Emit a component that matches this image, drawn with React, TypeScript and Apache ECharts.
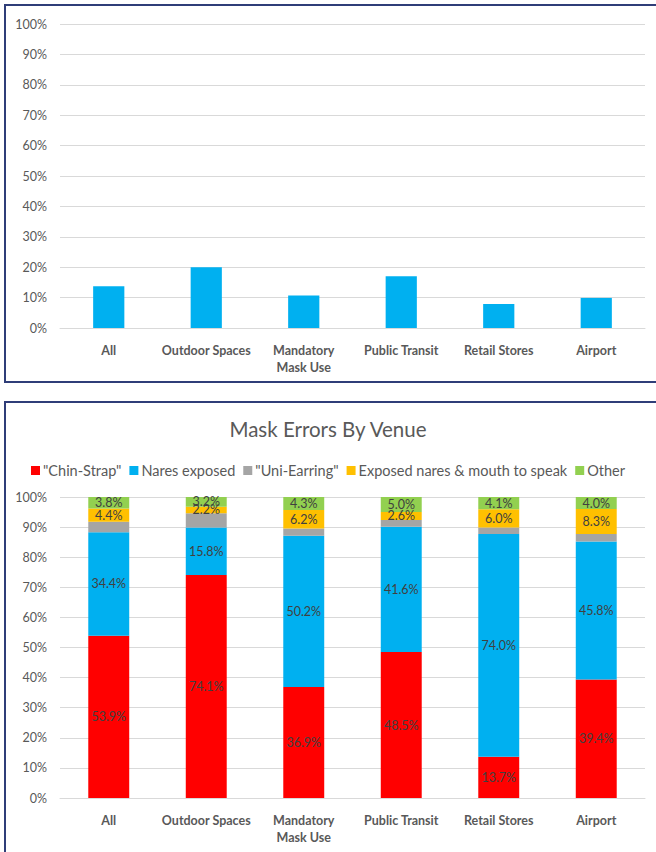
import React, { useEffect, useRef } from "react";
import * as echarts from "echarts";

const venues = ["All", "Outdoor Spaces", "Mandatory\nMask Use", "Public Transit", "Retail Stores", "Airport"];

// Share of people with a mask error, per venue (%)
const errorRate = [13.7, 20.0, 10.7, 17.0, 7.9, 9.9];

// Breakdown of mask errors by type, per venue (%)
const chinStrap = [53.9, 74.1, 36.9, 48.5, 13.7, 39.4];
const naresExposed = [34.4, 15.8, 50.2, 41.6, 74.0, 45.8];
const uniEarring = [3.5, 4.7, 2.4, 2.3, 2.2, 2.5];
const naresMouth = [4.4, 2.2, 6.2, 2.6, 6.0, 8.3];
const other = [3.8, 3.2, 4.3, 5.0, 4.1, 4.0];

const percentTicks = [0, 10, 20, 30, 40, 50, 60, 70, 80, 90, 100];

const errorSeries = [
  { name: '"Chin-Strap"', data: chinStrap, color: "#FF0000", label: true },
  { name: "Nares exposed", data: naresExposed, color: "#00B0F0", label: true },
  { name: '"Uni-Earring"', data: uniEarring, color: "#A5A5A5", label: false },
  { name: "Exposed nares & mouth to speak", data: naresMouth, color: "#FFC000", label: true },
  { name: "Other", data: other, color: "#92D050", label: true },
];

const FONT = "Lato, 'Open Sans', sans-serif";
const AXIS_TEXT = "#595959";
const GRID_LINE = "#D9D9D9";
const BORDER = "#2F3D78";

export default function App() {
  const ref = useRef<HTMLDivElement>(null);

  useEffect(() => {
    if (!ref.current) return;
    const chart = echarts.init(ref.current, undefined, { renderer: "svg" });

    const valueAxis = (gridIndex: number) => ({
      type: "value",
      gridIndex,
      min: percentTicks[0],
      max: percentTicks[percentTicks.length - 1],
      interval: 10,
      axisLabel: {
        formatter: "{value}%",
        color: AXIS_TEXT,
        fontFamily: FONT,
        fontSize: 12.5,
        margin: 13,
      },
      axisLine: { show: false },
      axisTick: { show: false },
      splitLine: { lineStyle: { color: GRID_LINE, width: 1 } },
    });

    const categoryAxis = (gridIndex: number) => ({
      type: "category",
      gridIndex,
      data: venues,
      axisLine: { lineStyle: { color: GRID_LINE, width: 1 } },
      axisTick: { show: false },
      axisLabel: {
        color: AXIS_TEXT,
        fontFamily: FONT,
        fontWeight: "bold",
        fontSize: 12.5,
        margin: 14,
        lineHeight: 17,
        interval: 0,
      },
    });

    chart.setOption({
      animation: false,
      backgroundColor: "#FFFFFF",
      title: {
        text: "Mask Errors By Venue",
        left: "center",
        top: 413,
        textStyle: { color: AXIS_TEXT, fontFamily: FONT, fontWeight: "normal", fontSize: 20.5 },
      },
      legend: {
        data: errorSeries.map((s) => s.name),
        left: "center",
        top: 458,
        icon: "rect",
        itemWidth: 9,
        itemHeight: 9,
        itemGap: 8,
        textStyle: { color: AXIS_TEXT, fontFamily: FONT, fontSize: 14.5, padding: [0, 0, 0, -2] },
      },
      grid: [
        { left: 60, right: 11, top: 24, bottom: 524 },
        { left: 60, right: 11, top: 497, bottom: 54 },
      ],
      xAxis: [categoryAxis(0), categoryAxis(1)],
      yAxis: [valueAxis(0), valueAxis(1)],
      graphic: [
        {
          type: "rect",
          shape: { x: 5, y: 5, width: 660, height: 377 },
          style: { fill: "none", stroke: BORDER, lineWidth: 2 },
          silent: true,
        },
        {
          type: "rect",
          shape: { x: 5, y: 402, width: 660, height: 470 },
          style: { fill: "none", stroke: BORDER, lineWidth: 2 },
          silent: true,
        },
      ],
      series: [
        {
          type: "bar",
          name: "Mask errors",
          xAxisIndex: 0,
          yAxisIndex: 0,
          data: errorRate,
          barWidth: "32%",
          itemStyle: { color: "#00B0F0" },
        },
        ...errorSeries.map((s) => ({
          type: "bar",
          name: s.name,
          xAxisIndex: 1,
          yAxisIndex: 1,
          stack: "errors",
          data: s.data,
          barWidth: "42%",
          itemStyle: { color: s.color },
          label: {
            show: s.label,
            position: "inside",
            formatter: (p: any) => `${Number(p.value).toFixed(1)}%`,
            color: "#404040",
            fontFamily: FONT,
            fontSize: 12.5,
          },
          labelLayout: { hideOverlap: false },
        })),
      ],
    });

    return () => chart.dispose();
  }, []);

  return (
    <div
      ref={ref}
      style={{ position: "absolute", left: 0, top: 0, width: 656, height: 852, background: "#fff" }}
    />
  );
}
